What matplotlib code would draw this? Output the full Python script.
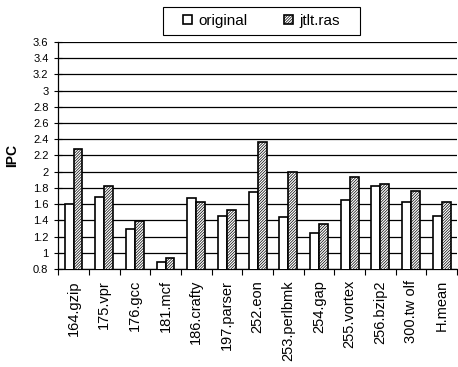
import matplotlib
matplotlib.use("Agg")
import matplotlib.pyplot as plt
from matplotlib.patches import Rectangle
import numpy as np

categories = ["164.gzip", "175.vpr", "176.gcc", "181.mcf", "186.crafty", "197.parser",
              "252.eon", "253.perlbmk", "254.gap", "255.vortex", "256.bzip2", "300.tw olf", "H.mean"]
original = [1.60, 1.69, 1.29, 0.89, 1.67, 1.45, 1.75, 1.44, 1.24, 1.65, 1.82, 1.63, 1.45]
jtlt_ras = [2.28, 1.82, 1.39, 0.94, 1.63, 1.53, 2.36, 2.00, 1.36, 1.94, 1.85, 1.76, 1.63]
yticks = [0.8, 1, 1.2, 1.4, 1.6, 1.8, 2, 2.2, 2.4, 2.6, 2.8, 3, 3.2, 3.4, 3.6]

plt.rcParams['font.family'] = ['Liberation Sans', 'DejaVu Sans']
plt.rcParams['hatch.linewidth'] = 0.5
plt.rcParams['hatch.color'] = '#666666'

fig = plt.figure(figsize=(4.58, 3.67), dpi=100)
ax = fig.add_axes([0.127, 0.267, 0.871, 0.619])

x = np.arange(len(categories))
w = 0.29
ax.bar(x - w/2, original, w, color='white', edgecolor='black', linewidth=1.2,
       label='original', zorder=3)
ax.bar(x + w/2, jtlt_ras, w, color='white', edgecolor='black', linewidth=1.2,
       hatch='////////////', label='jtlt.ras', zorder=3)

ax.set_ylim(0.8, 3.6)
ax.set_xlim(-0.5, len(categories) - 0.5)
ax.set_yticks(yticks)
ax.set_yticklabels([f"{v:g}" for v in yticks], fontsize=8)
ax.yaxis.grid(True, color='black', linewidth=0.9, zorder=0)
ax.set_axisbelow(True)

ax.set_xticks(x)
ax.set_xticklabels(categories, rotation=90, fontsize=10.5)
ax.tick_params(axis='x', length=0, pad=8)
ax.set_xticks(np.arange(-0.5, len(categories), 1), minor=True)
ax.tick_params(axis='x', which='minor', length=4, width=0.8, direction='out')
ax.tick_params(axis='y', length=6, width=0.8, direction='inout', pad=4)

for s in ['top', 'right']:
    ax.spines[s].set_visible(False)
ax.spines['left'].set_linewidth(0.9)
ax.spines['bottom'].set_linewidth(0.9)

ax.set_ylabel('IPC', fontsize=10, fontweight='bold', labelpad=10)

leg = fig.legend(loc='center', bbox_to_anchor=(0.571, 0.943), ncol=2, fontsize=11,
                 frameon=False, handlelength=0.6, handleheight=0.6,
                 columnspacing=2.4, handletextpad=0.4, borderpad=0.3)
fig.patches.append(Rectangle((0.356, 0.905), 0.430, 0.076, transform=fig.transFigure,
                             fill=False, edgecolor='black', linewidth=0.8))

fig.savefig('out.png', dpi=100)
